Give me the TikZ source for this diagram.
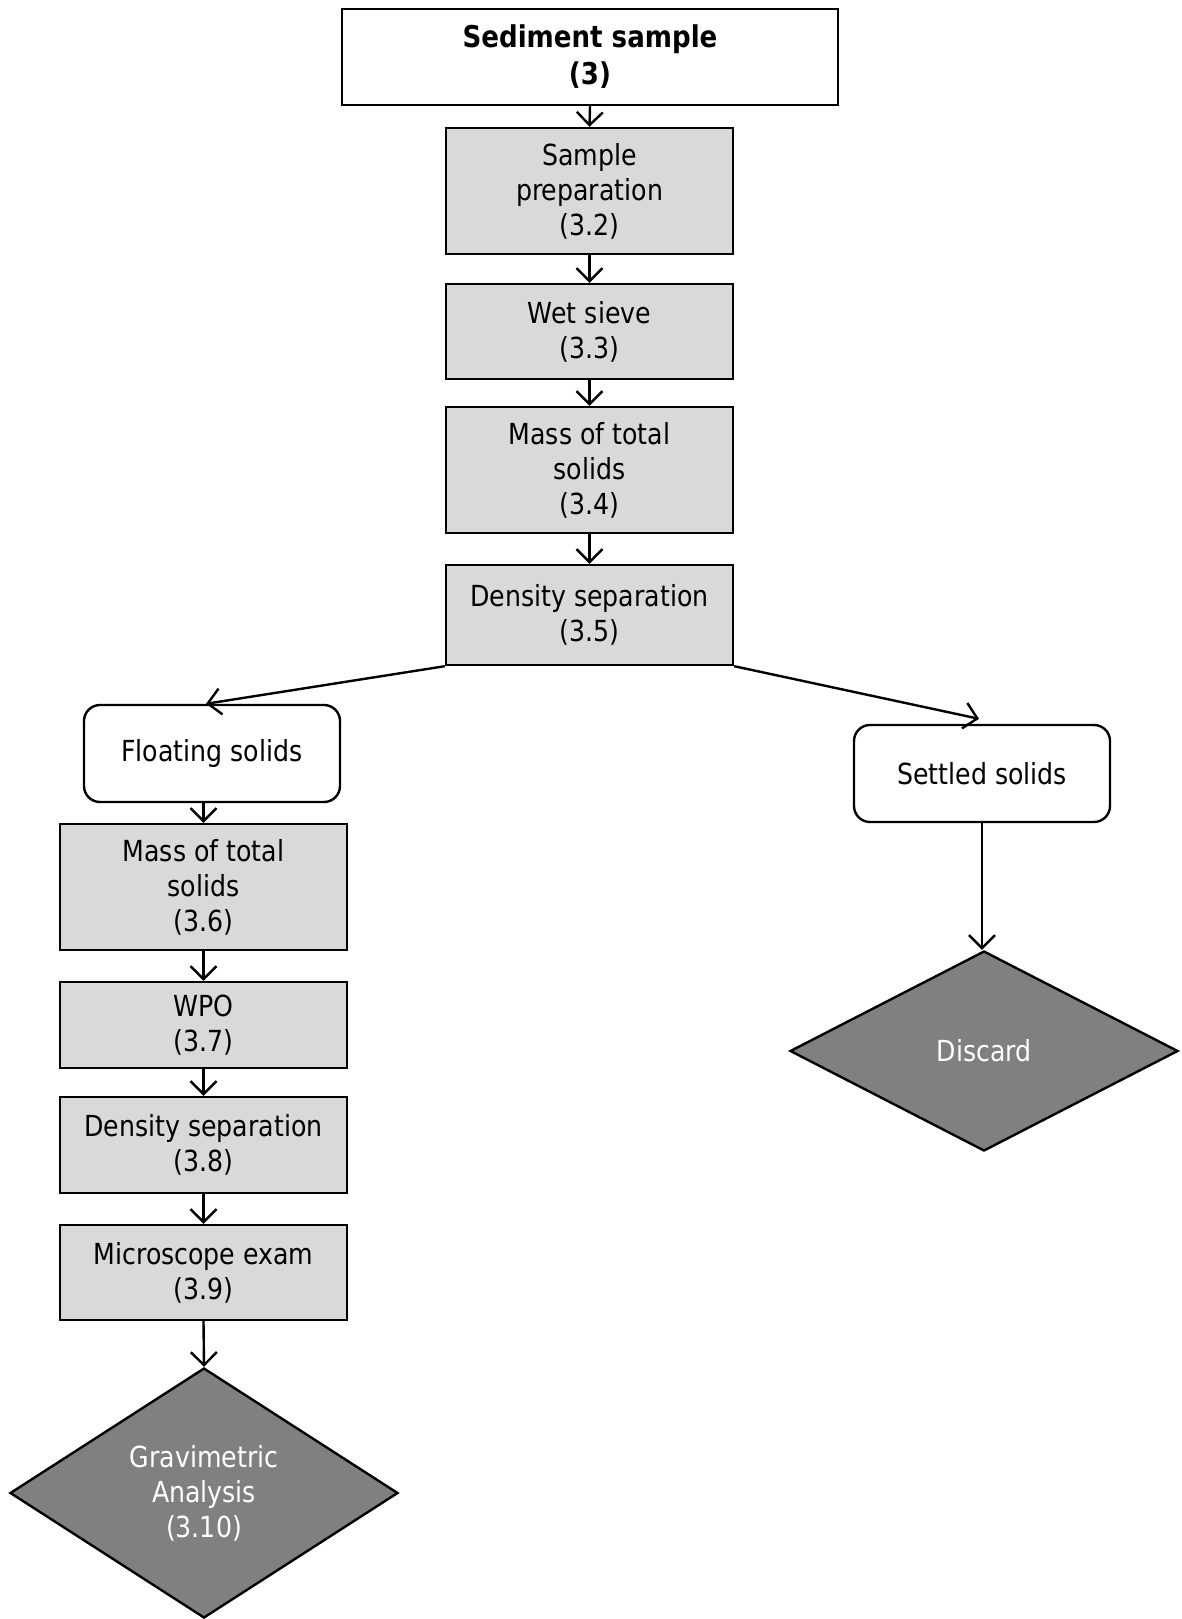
\documentclass[tikz,border=0pt]{standalone}
\usepackage{fontspec}
\setmainfont{DejaVu Sans}[FakeStretch=0.87]
\usetikzlibrary{arrows.meta,shapes.geometric,calc}
\definecolor{boxgray}{HTML}{D9D9D9}
\definecolor{dgray}{HTML}{808080}
\tikzset{
  base/.style={draw=black, line width=2.4pt, align=center, inner sep=0pt, font=\fontsize{29}{35}\selectfont},
  stepbox/.style={base, fill=boxgray, minimum width=287pt},
  topbox/.style={base, fill=white, font=\fontsize{30}{37}\selectfont\bfseries},
  roundbox/.style={base, fill=white, rounded corners=16pt, minimum width=256pt, minimum height=97pt},
  endshape/.style={base, shape=diamond, fill=dgray, text=white},
  conn/.style={draw=black, line width=2.4pt, -{Straight Barb[length=13pt,width=26pt,line width=2.4pt]}}
}
\begin{document}
\begin{tikzpicture}[x=1pt,y=-1pt]
\useasboundingbox (0,0) rectangle (1181,1619);
\node[topbox, minimum width=496pt, minimum height=96pt] (top) at (590,57) {Sediment sample\\(3)};
\node[stepbox, minimum height=126pt] (prep) at (589.5,191) {Sample\\preparation\\(3.2)};
\node[stepbox, minimum height=95pt] (sieve) at (589.5,331.5) {Wet sieve\\(3.3)};
\node[stepbox, minimum height=126pt] (mass1) at (589.5,470) {Mass of total\\solids\\(3.4)};
\node[stepbox, minimum height=100pt] (dens1) at (589.5,615) {Density separation\\(3.5)};
\node[roundbox] (float) at (212,753.5) {Floating solids};
\node[roundbox] (settled) at (982,773.5) {Settled solids};
\node[stepbox, minimum height=126pt] (mass2) at (203.5,887) {Mass of total\\solids\\(3.6)};
\node[stepbox, minimum height=86pt] (wpo) at (203.5,1025) {WPO\\(3.7)};
\node[stepbox, minimum height=96pt] (dens2) at (203.5,1145) {Density separation\\(3.8)};
\node[stepbox, minimum height=95pt] (micro) at (203.5,1272.5) {Microscope exam\\(3.9)};
\node[endshape, minimum width=388pt, minimum height=250pt, aspect=1.55] (grav) at (204,1493) {Gravimetric\\Analysis\\(3.10)};
\node[endshape, minimum width=388pt, minimum height=200pt, aspect=1.94] (discard) at (984,1051) {Discard};
\draw[conn] (top.south) -- (prep.north);
\draw[conn] (prep.south) -- (sieve.north);
\draw[conn] (sieve.south) -- (mass1.north);
\draw[conn] (mass1.south) -- (dens1.north);
\draw[conn] (dens1.south west) -- ($(float.north)+(-6,0)$);
\draw[conn] (dens1.south east) -- ($(settled.north)+(-3,-5)$);
\draw[conn] (float.south -| mass2.north) -- (mass2.north);
\draw[conn] (mass2.south) -- (wpo.north);
\draw[conn] (wpo.south) -- (dens2.north);
\draw[conn] (dens2.south) -- (micro.north);
\draw[conn] (micro.south) -- (grav.north);
\draw[conn] (settled.south) -- (settled.south |- discard.north);
\end{tikzpicture}
\end{document}
